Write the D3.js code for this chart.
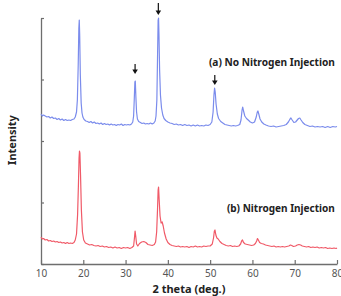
<!DOCTYPE html>
<html>
<head>
<meta charset="utf-8">
<script src="https://cdn.jsdelivr.net/npm/d3@7"></script>
<style>
  body{margin:0;background:#fff;}
  svg text{font-family:"Noto Sans","DejaVu Sans",sans-serif;}
</style>
</head>
<body>
<div id="chart"></div>
<script>
// XRD patterns, 2 theta (deg.) vs intensity (a.u., stacked)
let noNitrogen=[
[10.0,150],[10.3,148],[10.6,149],[11.0,148],[11.4,147],[11.8,147.5],[12.2,146],[12.6,147],[13.0,145.5],[13.4,146],
[13.8,144.5],[14.2,145.5],[14.6,144],[15.0,145],[15.4,143.5],[15.8,144.5],[16.2,143.5],[16.6,144],[17.0,143.5],[17.4,144.5],
[17.8,145],[18.1,147],[18.4,152],[18.6,164],[18.8,199],[18.95,236],[19.05,244],[19.15,229],[19.3,189],[19.5,161],
[19.7,151],[19.9,147],[20.2,144.5],[20.6,143],[21.0,142.5],[21.4,141.5],[21.8,142.5],[22.2,141],[22.6,142],[23.0,140.5],
[23.4,141],[23.8,140],[24.2,141],[24.6,139.5],[25.0,140.5],[25.4,139.5],[25.8,140],[26.2,139],[26.6,140],[27.0,139],
[27.4,139.5],[27.8,138.5],[28.2,139.5],[28.6,139],[29.0,140],[29.4,138.5],[29.8,139.5],[30.2,139],[30.6,139.5],[31.0,139],
[31.4,140],[31.7,142],[31.9,148],[32.05,164],[32.2,182],[32.3,183],[32.45,166],[32.6,152],[32.8,145],[33.1,142.5],
[33.5,141.5],[33.9,140.5],[34.3,141],[34.7,140],[35.1,140.5],[35.5,140],[35.9,141],[36.3,140],[36.7,141],[37.0,143],
[37.2,148],[37.4,164],[37.55,204],[37.7,244],[37.8,246],[37.9,229],[38.05,194],[38.25,169],[38.5,156],[38.8,149],
[39.1,145.5],[39.5,143.5],[40.0,142],[40.5,141],[41.0,140.5],[41.5,139.5],[42.0,140],[42.5,139],[43.0,139.5],[43.5,138.5],
[44.0,139.5],[44.5,138.5],[45.0,139],[45.5,138],[46.0,139],[46.5,138],[47.0,139],[47.5,138],[48.0,138.5],[48.5,138],
[49.0,139],[49.5,138.5],[50.0,139.5],[50.4,142],[50.7,152],[50.9,169],[51.05,176],[51.2,172],[51.4,160],[51.7,150],
[52.0,145.5],[52.5,142.5],[53.0,141],[53.5,139.5],[54.0,139],[54.5,138.5],[55.0,138],[55.5,138.5],[56.0,138],[56.5,138.5],
[57.0,139.5],[57.3,144],[57.55,154],[57.7,157],[57.9,153],[58.2,148],[58.6,145.5],[59.0,144],[59.5,142],[60.0,141],
[60.5,142],[60.9,147],[61.15,152],[61.3,153],[61.5,150],[61.8,145],[62.2,142],[62.7,140],[63.2,139],[63.8,138],
[64.4,137.5],[65.0,138],[65.6,137],[66.2,137.5],[66.8,138],[67.4,138.5],[68.0,139.5],[68.5,142],[68.9,145],[69.1,146],
[69.4,144],[69.8,141.5],[70.2,142],[70.6,144],[70.9,145.5],[71.2,146],[71.5,144],[71.9,141.5],[72.4,139.5],[73.0,138.5],
[73.6,137.5],[74.2,138],[74.8,137],[75.4,137.5],[76.0,137],[76.6,137.5],[77.2,136.5],[77.8,137.5],[78.4,136.5],[79.0,137.5],
[79.6,137],[80.0,137.5]
];
let withNitrogen=[
[10.0,27],[10.3,25],[10.6,25.5],[11.0,24],[11.4,24.5],[11.8,23],[12.2,23.5],[12.6,22.5],[13.0,23],[13.4,22],
[13.8,22.5],[14.2,21.5],[14.6,22],[15.0,21],[15.4,21.5],[15.8,20.5],[16.2,21.5],[16.6,20.5],[17.0,21],[17.4,20.5],
[17.8,21.5],[18.1,24],[18.4,30],[18.65,49],[18.85,79],[19.0,106],[19.1,113],[19.2,111],[19.35,89],[19.55,54],
[19.8,32],[20.1,24],[20.5,21],[21.0,20],[21.5,19],[22.0,19.5],[22.5,18.5],[23.0,18],[23.5,18.5],[24.0,17.5],
[24.5,18],[25.0,17],[25.5,17.5],[26.0,16.5],[26.5,17],[27.0,16],[27.5,17],[28.0,16],[28.5,16.5],[29.0,15.5],
[29.5,16.5],[30.0,16],[30.5,16.5],[31.0,15.5],[31.5,16.5],[31.9,18],[32.1,26],[32.25,33],[32.4,28],[32.6,20],
[32.9,18],[33.3,20.5],[33.8,22],[34.3,22.5],[34.8,21.5],[35.3,19.5],[35.8,19],[36.3,18.5],[36.8,19.5],[37.1,22],
[37.35,32],[37.55,54],[37.7,74],[37.8,77],[37.95,64],[38.15,48],[38.4,41],[38.65,42],[38.9,38],[39.2,31],
[39.6,25],[40.0,21.5],[40.5,19.5],[41.0,18.5],[41.5,18],[42.0,17.5],[42.5,18],[43.0,17],[43.5,17.5],[44.0,17],
[44.5,17.5],[45.0,16.5],[45.5,17.5],[46.0,17],[46.5,18],[47.0,17],[47.5,17.5],[48.0,17],[48.5,18],[49.0,17.5],
[49.5,18],[50.0,18],[50.5,20],[50.8,26],[51.0,33],[51.15,34],[51.35,29],[51.6,26],[51.9,25],[52.3,22.5],
[52.8,20.5],[53.3,19.5],[53.8,18.5],[54.3,18],[54.8,18.5],[55.3,17.5],[55.8,18],[56.3,17.5],[56.8,18],[57.2,20],
[57.45,23],[57.65,24],[57.9,21.5],[58.3,20],[58.8,19.5],[59.3,19],[59.8,18.5],[60.3,19],[60.7,20.5],[61.0,23],
[61.2,25.5],[61.4,24],[61.7,21.5],[62.1,20.5],[62.6,20],[63.1,19],[63.6,18.5],[64.1,18],[64.6,17.5],[65.1,18],
[65.6,17],[66.1,17.5],[66.6,17],[67.1,17.5],[67.6,17],[68.1,17.5],[68.6,18],[69.0,19],[69.3,18.5],[69.7,17.5],
[70.2,18],[70.6,19],[71.0,19.5],[71.4,19],[71.8,18],[72.3,17.5],[72.8,17],[73.3,17.5],[73.8,16.5],[74.3,17],
[74.8,16.5],[75.3,17],[75.8,16],[76.3,16.5],[76.8,16],[77.3,16.5],[77.8,15.5],[78.3,16],[78.8,15.5],[79.3,16],
[79.8,15.5],[80.0,16]
];
// arrows marking peaks: [2theta, tail intensity, tip intensity]
let arrows=[[32.25,200,190],[37.75,261,249],[51.1,189,179]];
let xTicks=[10,20,30,40,50,60,70,80];
let yTicks=[0,61.5,123,184.5,246];
let labels=[["(a) No Nitrogen Injection",79.5,198,126],["(b) Nitrogen Injection",79.5,52,108]];

(function(){
    let W=341,H=296;
    let margin={top:18,right:4,bottom:32,left:41};
    let svg=d3.select("#chart").append("svg")
        .attr("width",W).attr("height",H);
    let x=d3.scaleLinear().domain([10,80]).range([margin.left,W-margin.right]);
    let y=d3.scaleLinear().domain([0,246]).range([H-margin.bottom,margin.top]);
    let axisColor="#6e6e6e";

    //left axis, ticks pointing inward
    let ya=svg.append("g")
        .attr("transform","translate("+margin.left+",0)")
        .call(d3.axisRight(y).tickValues(yTicks).tickSize(3).tickFormat("").tickSizeOuter(0));
    ya.select(".domain").attr("stroke",axisColor).attr("stroke-width",1.3);
    ya.selectAll(".tick line").attr("stroke",axisColor).attr("stroke-width",1.2);

    //bottom axis, ticks pointing up, labels below
    let xa=svg.append("g")
        .attr("transform","translate(0,"+(H-margin.bottom)+")")
        .call(d3.axisTop(x).tickValues(xTicks).tickSize(4).tickSizeOuter(0));
    xa.select(".domain").attr("stroke",axisColor).attr("stroke-width",1.3);
    xa.selectAll(".tick line").attr("stroke",axisColor).attr("stroke-width",1.2);
    xa.selectAll(".tick text")
        .attr("y",13).attr("dy",0)
        .attr("fill","#555").style("font-size","10px");

    let line=d3.line().x(function(d){return x(d[0])}).y(function(d){return y(d[1])});
    svg.append("path").datum(noNitrogen)
        .attr("fill","none").attr("stroke","#7b8cec").attr("stroke-width",1.2)
        .attr("stroke-linejoin","round").attr("d",line);
    svg.append("path").datum(withNitrogen)
        .attr("fill","none").attr("stroke","#f05a68").attr("stroke-width",1.2)
        .attr("stroke-linejoin","round").attr("d",line);

    //arrows
    arrows.forEach(function(a){
        let ax=x(a[0]),y0=y(a[1]),y1=y(a[2]);
        svg.append("line").attr("x1",ax).attr("x2",ax).attr("y1",y0).attr("y2",y1-3)
            .attr("stroke","#111").attr("stroke-width",1.2);
        svg.append("path")
            .attr("d","M"+(ax-2.8)+","+(y1-4.5)+"L"+(ax+2.8)+","+(y1-4.5)+"L"+ax+","+y1+"Z")
            .attr("fill","#111");
    });

    labels.forEach(function(l){
        svg.append("text").text(l[0])
            .attr("x",x(l[1])).attr("y",y(l[2]))
            .attr("text-anchor","end")
            .attr("textLength",l[3]).attr("lengthAdjust","spacingAndGlyphs")
            .style("font-size","11px").style("font-weight","bold").attr("fill","#222");
    });

    svg.append("text").text("Intensity")
        .attr("transform","translate(16,"+140+") rotate(-90)")
        .attr("text-anchor","middle")
        .style("font-size","11px").style("font-weight","bold").attr("fill","#222");
    svg.append("text").text("2 theta (deg.)")
        .attr("x",189).attr("y",293)
        .attr("text-anchor","middle")
        .style("font-size","11px").style("font-weight","bold").attr("fill","#222");
})();
</script>
</body>
</html>
